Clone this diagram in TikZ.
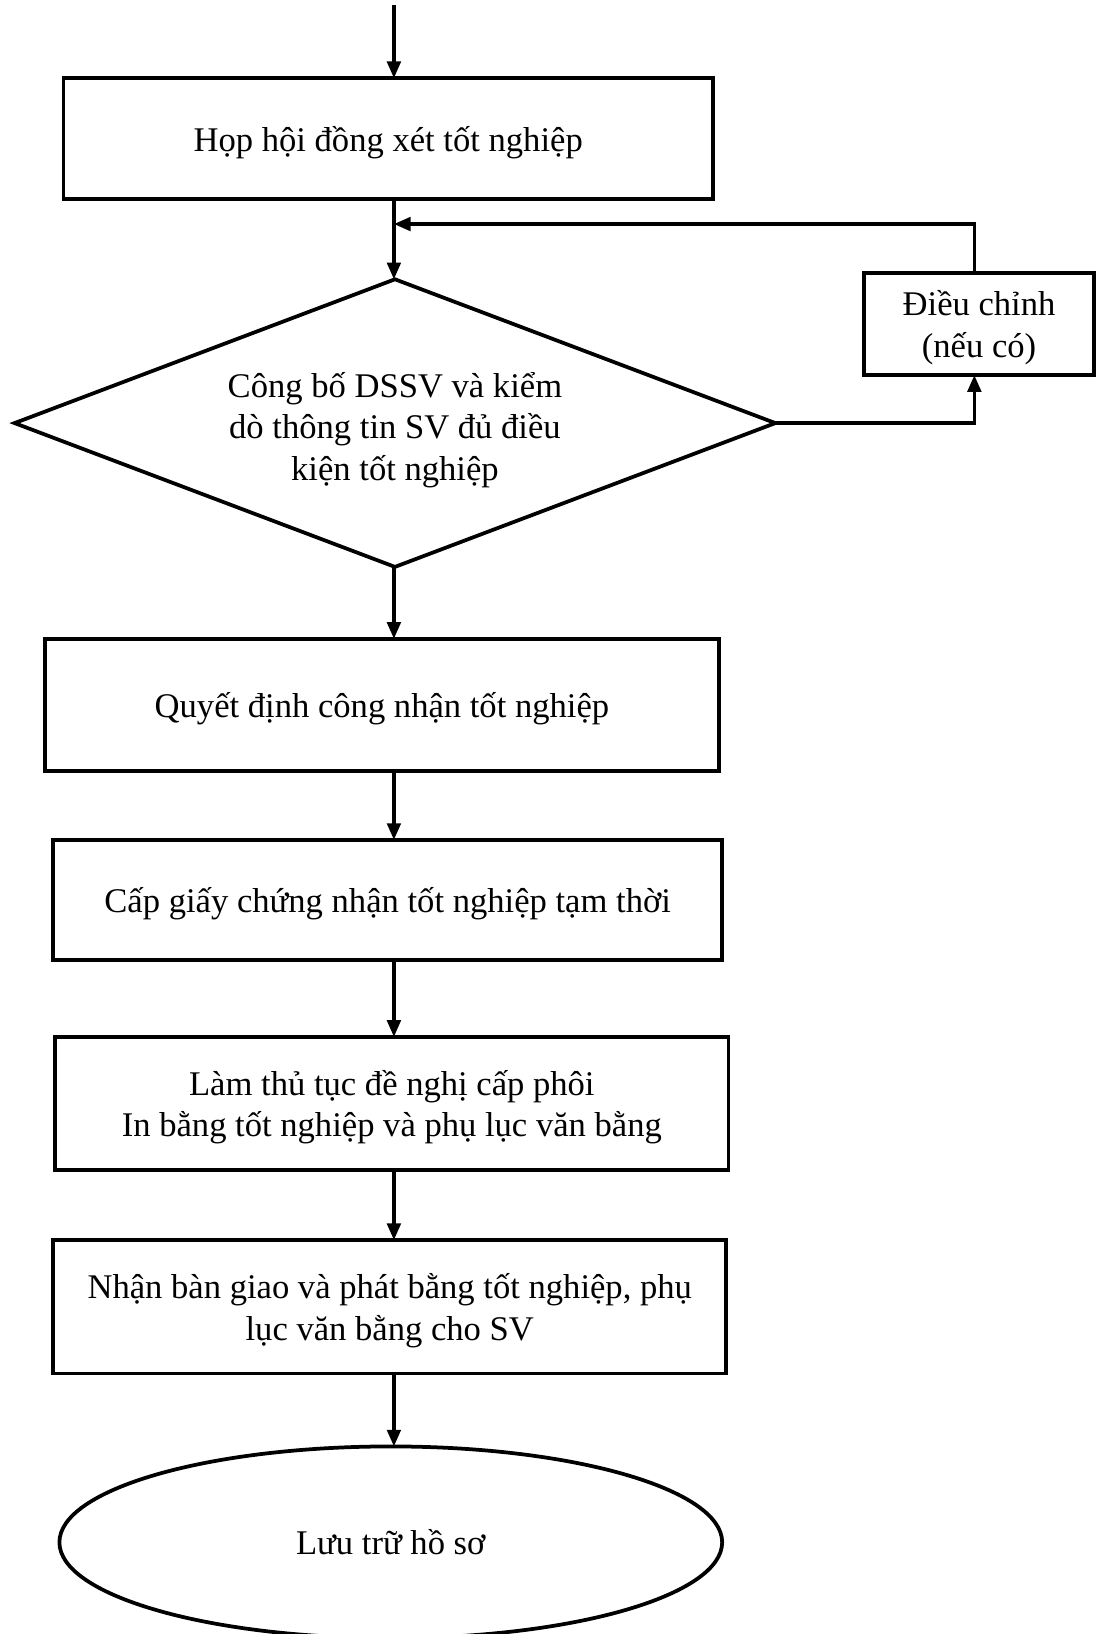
\documentclass[tikz,border=0pt]{standalone}
\usepackage{fontspec}
\setmainfont{Liberation Serif}
\usetikzlibrary{shapes.geometric,arrows.meta}
\begin{document}
\begin{tikzpicture}[x=0.5pt,y=-0.5pt,
  box/.style={draw,line width=1.8pt,rectangle,inner sep=0pt,outer sep=0pt,align=center,text depth=0pt,font=\fontsize{16.6}{20}\selectfont},
  txt/.style={align=center,inner sep=0pt,text depth=0pt,font=\fontsize{16.6}{20}\selectfont},
  arr/.style={line width=1.6pt,-{Triangle[length=8pt,width=6.5pt]}}]
\useasboundingbox (0,0) rectangle (1054,1568);
\coordinate (col) at (378,0);
\coordinate (fb) at (935,0);
\coordinate (start) at (378,5);
\node[box,minimum width=311.5pt,minimum height=58pt] (b1) at (372.5,133) {Họp hội đồng xét tốt nghiệp};
\node[diamond,draw,line width=1.8pt,inner sep=0pt,outer sep=0pt,minimum width=365pt,minimum height=138pt] (dia) at (379,406) {};
\node[txt] (dtext) at (379,409) {Công bố DSSV và kiểm\\dò thông tin SV đủ điều\\kiện tốt nghiệp};
\node[box,minimum width=110.5pt,minimum height=49pt] (adj) at (939.5,311) {Điều chỉnh\\(nếu có)};
\node[box,minimum width=323.5pt,minimum height=63.5pt] (b3) at (366.5,676.5) {Quyết định công nhận tốt nghiệp};
\node[box,minimum width=321pt,minimum height=57.5pt] (b4) at (372,863.5) {Cấp giấy chứng nhận tốt nghiệp tạm thời};
\node[box,minimum width=323pt,minimum height=64pt] (b5) at (376,1059) {Làm thủ tục đề nghị cấp phôi\\In bằng tốt nghiệp và phụ lục văn bằng};
\node[box,minimum width=323pt,minimum height=64pt] (b6) at (374,1254) {Nhận bàn giao và phát bằng tốt nghiệp, phụ\\lục văn bằng cho SV};
\node[ellipse,draw,line width=1.8pt,inner sep=0pt,outer sep=0pt,minimum width=318pt,minimum height=92pt,font=\fontsize{16.6}{20}\selectfont] (ell) at (375,1480) {Lưu trữ hồ sơ};
\coordinate (join) at (378,215);
\draw[arr] (start) -- (start |- b1.north);
\draw[arr] (b1.south -| col) -- (col |- dia.north);
\draw[arr] (fb |- adj.north) |- (join);
\draw[arr] (dia.east) -| (fb |- adj.south);
\draw[arr] (col |- dia.south) -- (col |- b3.north);
\draw[arr] (b3.south -| col) -- (col |- b4.north);
\draw[arr] (b4.south -| col) -- (col |- b5.north);
\draw[arr] (b5.south -| col) -- (col |- b6.north);
\draw[arr] (b6.south -| col) -- (col |- ell.north);
\end{tikzpicture}
\end{document}
